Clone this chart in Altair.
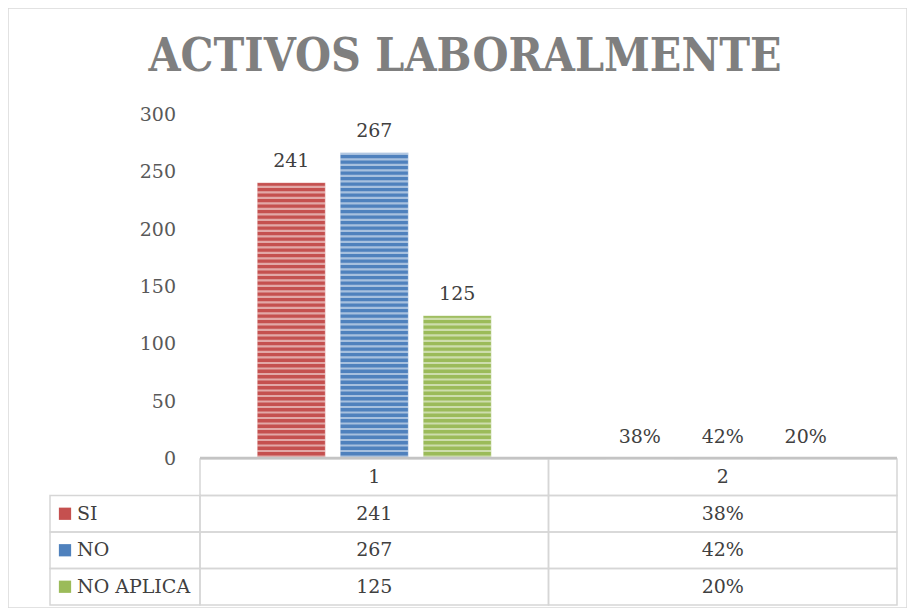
import altair as alt
import numpy as np
import pandas as pd

# ---------------- data ----------------
title_text = "ACTIVOS LABORALMENTE"
categories = ["1", "2"]
series = ["SI", "NO", "NO APLICA"]
counts = [241, 267, 125]
shares = [0.38, 0.42, 0.20]
share_labels = ["38%", "42%", "20%"]
y_ticks = [0, 50, 100, 150, 200, 250, 300]
colors = ["#c5504f", "#4f81bd", "#9bbb59"]

# ---------------- layout (plot-area pixels) ----------------
W, H = 899, 600
X_RANGE = [192, 889]
Y_RANGE = [451, 107]
ROW_RANGE = [451, 597]
rows = ["cat"] + series
FONT = "DejaVu Serif"
TXT = "#404040"
GRID = "#d6d6d6"

bars = pd.DataFrame({
    "cat": ["1"] * 3 + ["2"] * 3,
    "series": series * 2,
    "value": counts + shares,
    "label": [str(c) for c in counts] + share_labels,
})

# decorative horizontal stripes (Excel pattern fill)
stripe_rows = []
for _, r in bars.iterrows():
    for s in np.arange(1.2, r["value"] - 1.0, 4.8):
        stripe_rows.append({"cat": r["cat"], "series": r["series"], "y0": s, "y1": s + 1.9})
stripes = pd.DataFrame(stripe_rows)

x_enc = alt.X("cat:N", scale=alt.Scale(domain=categories, range=X_RANGE,
                                        paddingInner=0, paddingOuter=0), axis=None)
xo_enc = alt.XOffset("series:N", scale=alt.Scale(domain=series, paddingInner=0.18,
                                                  paddingOuter=0.69))
yscale = alt.Scale(domain=[0, 300], range=Y_RANGE, nice=False, zero=True)
color_enc = alt.Color("series:N", scale=alt.Scale(domain=series, range=colors), legend=None)

bar_layer = alt.Chart(bars).mark_bar(strokeWidth=1, strokeOpacity=0.35, stroke="white").encode(
    x=x_enc, xOffset=xo_enc,
    y=alt.Y("value:Q", scale=yscale, axis=None),
    color=color_enc,
)

stripe_layer = alt.Chart(stripes).mark_bar(color="white", opacity=0.5).encode(
    x=x_enc, xOffset=xo_enc,
    y=alt.Y("y0:Q", scale=yscale, axis=None),
    y2="y1:Q",
)

label_layer = alt.Chart(bars).mark_text(
    dy=-22, baseline="middle", fontSize=19, font=FONT, color=TXT
).encode(
    x=x_enc, xOffset=xo_enc,
    y=alt.Y("value:Q", scale=yscale, axis=None),
    text="label:N",
)

ytick_layer = alt.Chart(pd.DataFrame({"t": y_ticks})).mark_text(
    align="right", baseline="middle", fontSize=19, font=FONT, color="#595959"
).encode(
    x=alt.value(168),
    y=alt.Y("t:Q", scale=yscale, axis=None),
    text="t:Q",
)

title_layer = alt.Chart(pd.DataFrame({"t": [title_text]})).mark_text(
    align="center", baseline="middle", fontSize=46, font="DejaVu Serif Condensed",
    fontWeight="bold", color="#7f7f7f"
).encode(x=alt.value(457), y=alt.value(49), text="t:N")

# ---------------- data table ----------------
row_scale = alt.Scale(domain=rows, range=ROW_RANGE, paddingInner=0, paddingOuter=0)
row_enc = alt.Y("row:N", scale=row_scale, axis=None)

cells = pd.DataFrame(
    [{"cat": c, "row": "cat", "text": c} for c in categories]
    + [{"cat": "1", "row": s, "text": str(v)} for s, v in zip(series, counts)]
    + [{"cat": "2", "row": s, "text": t} for s, t in zip(series, share_labels)]
)

cell_rect = alt.Chart(cells).mark_rect(fill="white", fillOpacity=0, stroke=GRID, strokeWidth=1.5).encode(
    x=x_enc, y=row_enc,
)
cell_text = alt.Chart(cells).mark_text(fontSize=19, font=FONT, color=TXT, baseline="middle").encode(
    x=x_enc, y=row_enc, text="text:N",
)

legend_df = pd.DataFrame({"row": series, "series": series})
label_rect = alt.Chart(legend_df).mark_rect(fill="white", fillOpacity=0, stroke=GRID, strokeWidth=1.5).encode(
    x=alt.value(42), x2=alt.value(192), y=row_enc,
)
label_sq = alt.Chart(legend_df).mark_square(size=150, opacity=1).encode(
    x=alt.value(57), y=row_enc, color=color_enc,
)
label_text = alt.Chart(legend_df).mark_text(align="left", baseline="middle", fontSize=19,
                                            font=FONT, color=TXT).encode(
    x=alt.value(69), y=row_enc, text="series:N",
)

top_rule = alt.Chart(pd.DataFrame({"a": [0]})).mark_rule(color="#c4c4c4", strokeWidth=2.5).encode(
    x=alt.value(192), x2=alt.value(889), y=alt.value(450)
)

chart = alt.layer(
    cell_rect, label_rect, bar_layer, stripe_layer, top_rule, label_layer, ytick_layer,
    title_layer, cell_text, label_sq, label_text,
).resolve_scale(y="independent").properties(
    width=W, height=H, padding=0,
    autosize=alt.AutoSizeParams(type="none"),
).configure_view(stroke="#d9d9d9", strokeWidth=1.5)

chart.save("out.html", embed_options={"renderer": "svg", "actions": False})
